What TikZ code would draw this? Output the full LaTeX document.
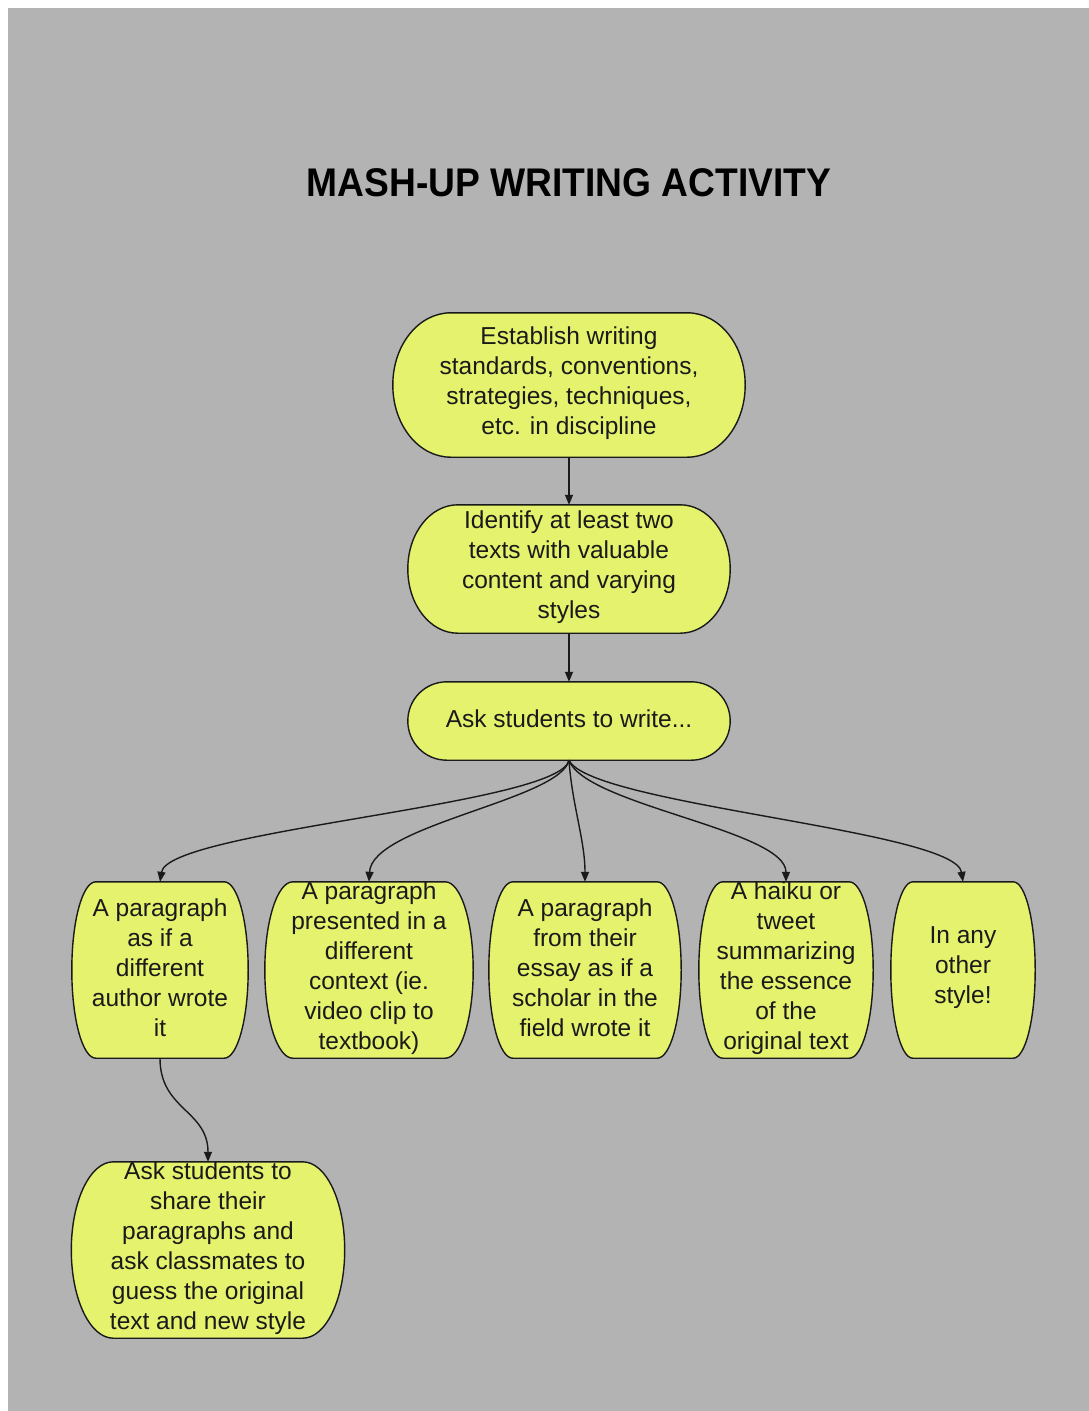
\documentclass[tikz,border=0pt]{standalone}
\usepackage{fontspec}
\setmainfont{Liberation Sans}
\usetikzlibrary{arrows.meta,calc}
\pgfdeclarelayer{bg}\pgfdeclarelayer{mid}\pgfsetlayers{bg,mid,main}
\definecolor{bggray}{HTML}{B3B3B3}
\definecolor{nodeyellow}{HTML}{E5F26D}
\definecolor{ink}{HTML}{1A1A1A}
\newcommand\mshape[2]{%
\begin{pgfonlayer}{mid}
\path[shapestyle] ([xshift=#2]#1.north west) -- ([xshift=-#2]#1.north east)
 .. controls ([xshift=-0.45*#2]#1.north east) and ($(#1.north east)!0.22!(#1.south east)$) .. (#1.east)
 .. controls ($(#1.north east)!0.78!(#1.south east)$) and ([xshift=-0.45*#2]#1.south east) .. ([xshift=-#2]#1.south east)
 -- ([xshift=#2]#1.south west)
 .. controls ([xshift=0.45*#2]#1.south west) and ($(#1.north west)!0.78!(#1.south west)$) .. (#1.west)
 .. controls ($(#1.north west)!0.22!(#1.south west)$) and ([xshift=0.45*#2]#1.north west) .. cycle;
\end{pgfonlayer}}
\begin{document}
\begin{tikzpicture}[x=1pt,y=-1pt,
 frame/.style={draw=none, inner sep=0pt},
 txt/.style={align=center, text=ink, font=\fontsize{24.5}{30}\selectfont, inner sep=0pt, yshift=2pt},
 shapestyle/.style={draw=ink, fill=nodeyellow, line width=1.4pt},
 conn/.style={draw=ink, line width=1.4pt, -{Triangle[length=10pt,width=8pt]}}]
\useasboundingbox (0,0) rectangle (1089,1411);
\begin{pgfonlayer}{bg}
\fill[bggray] (8,8) rectangle (1089,1411);
\end{pgfonlayer}

\node[text=black, font=\fontsize{40}{48}\selectfont\bfseries] (title) at (569,183) {\scalebox{0.93}[1]{MASH-UP WRITING ACTIVITY}};

\node[frame, minimum width=352pt, minimum height=144pt] (A) at (569,385) {};
\node[frame, minimum width=322pt, minimum height=128pt] (B) at (569,569) {};
\node[frame, minimum width=322pt, minimum height=78pt] (C) at (569,721) {};
\node[frame, minimum width=176pt, minimum height=176pt] (D1) at (160,970) {};
\node[frame, minimum width=208pt, minimum height=176pt] (D2) at (369,970) {};
\node[frame, minimum width=192pt, minimum height=176pt] (D3) at (585,970) {};
\node[frame, minimum width=174pt, minimum height=176pt] (D4) at (786,970) {};
\node[frame, minimum width=144pt, minimum height=176pt] (D5) at (963,970) {};
\node[frame, minimum width=273pt, minimum height=176pt] (E) at (208,1250) {};

\mshape{A}{58pt}
\mshape{B}{50pt}
\mshape{C}{39pt}
\mshape{D1}{24pt}
\mshape{D2}{28pt}
\mshape{D3}{24pt}
\mshape{D4}{24pt}
\mshape{D5}{22pt}
\mshape{E}{42pt}

\node[txt] (At) at (A) {Establish writing\\standards, conventions,\\strategies, techniques,\\etc. in discipline};
\node[txt] (Bt) at (B) {Identify at least two\\texts with valuable\\content and varying\\styles};
\node[txt] (Ct) at (C) {Ask students to write...};
\node[txt] (D1t) at (D1) {A paragraph\\as if a\\different\\author wrote\\it};
\node[txt] (D2t) at (D2) {A paragraph\\presented in a\\different\\context (ie.\\video clip to\\textbook)};
\node[txt] (D3t) at (D3) {A paragraph\\from their\\essay as if a\\scholar in the\\field wrote it};
\node[txt] (D4t) at (D4) {A haiku or\\tweet\\summarizing\\the essence\\of the\\original text};
\node[txt] (D5t) at (D5) {In any\\other\\style!};
\node[txt] (Et) at (E) {Ask students to\\share their\\paragraphs and\\ask classmates to\\guess the original\\text and new style};

\draw[conn] (A.south) -- (B.north);
\draw[conn] (B.south) -- (C.north);
\draw[conn] (C.south) .. controls (560,805) and (168,830) .. (D1.north);
\draw[conn] (C.south) .. controls (560,800) and (372,825) .. (D2.north);
\draw[conn] (C.south) .. controls (572,805) and (585,840) .. (D3.north);
\draw[conn] (C.south) .. controls (585,805) and (786,830) .. (D4.north);
\draw[conn] (C.south) .. controls (590,805) and (955,830) .. (D5.north);
\draw[conn] (D1.south) .. controls (160,1110) and (208,1110) .. (E.north);
\end{tikzpicture}
\end{document}
